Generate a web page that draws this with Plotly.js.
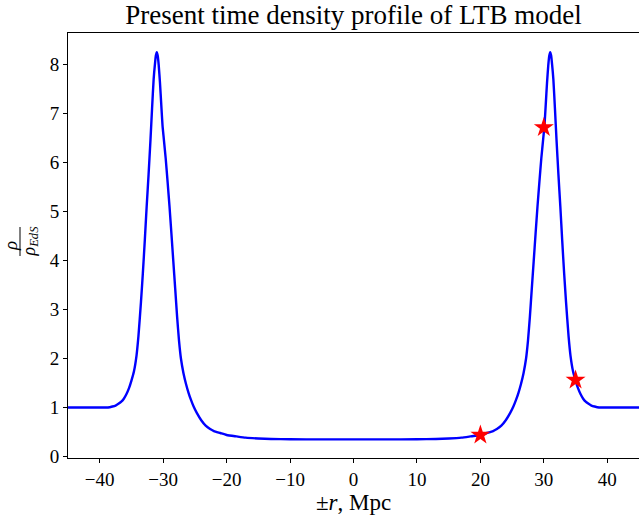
<!DOCTYPE html>
<html>
<head>
<meta charset="utf-8">
<script src="https://cdn.plot.ly/plotly-3.0.1.min.js"></script>
<style>
html,body{margin:0;padding:0;background:#fff;}
#chart{width:639px;height:519px;}
</style>
</head>
<body>
<div id="chart"></div>
<script>
// Half profile (r >= 0); the plot shows it mirrored to ±r
const rHalf   = [0, 5, 10, 13, 15, 17, 18.4, 20, 21, 22, 22.6, 23.3, 24.0, 24.7, 25.2, 25.6, 26.0, 26.4, 26.8, 27.2, 27.5, 27.8, 28.1, 28.4, 28.7, 29.0, 29.3, 29.6, 29.9, 30.1, 30.3, 30.5, 30.7, 30.85, 31.0, 31.15, 31.3, 31.5, 31.75, 32.0, 32.3, 32.6, 32.9, 33.2, 33.5, 33.9, 34.2, 34.6, 35.0, 35.4, 35.8, 36.2, 36.6, 37.0, 37.5, 38.0, 38.7, 40, 45];
const rhoHalf = [0.35, 0.35, 0.352, 0.358, 0.368, 0.385, 0.41, 0.44, 0.48, 0.52, 0.56, 0.63, 0.74, 0.89, 1.02, 1.15, 1.30, 1.48, 1.70, 2.00, 2.36, 2.85, 3.42, 3.98, 4.55, 5.10, 5.60, 6.08, 6.48, 6.75, 7.18, 7.62, 7.98, 8.17, 8.25, 8.18, 8.00, 7.70, 7.10, 6.46, 5.75, 5.10, 4.40, 3.74, 3.15, 2.45, 2.06, 1.74, 1.55, 1.39, 1.27, 1.18, 1.12, 1.08, 1.04, 1.02, 1.0, 1.0, 1.0];

// Marked points (red stars)
const starR   = [20, 30, 35];
const starRho = [0.44, 6.71, 1.56];

const xTicks = [-40, -30, -20, -10, 0, 10, 20, 30, 40];
const yTicks = [0, 1, 2, 3, 4, 5, 6, 7, 8];

// Mirror the half profile onto negative r
const rFull = rHalf.slice(1).reverse().map(v => -v).concat(rHalf);
const rhoFull = rhoHalf.slice(1).reverse().concat(rhoHalf);

const fontFam = '"Liberation Serif", "DejaVu Serif", serif';

const traces = [
  {x: rFull, y: rhoFull, type: 'scatter', mode: 'lines',
   line: {color: '#0000ff', width: 2.4, shape: 'spline', smoothing: 0.5},
   hoverinfo: 'skip', showlegend: false},
  {x: starR, y: starRho, type: 'scatter', mode: 'markers',
   marker: {symbol: 'star', size: 15, color: '#ff0000', line: {width: 0}},
   showlegend: false}
];

const L = 68, W = 639, H = 519, T = 33, B = 61;
const plotH = H - T - B;
function py(p) { return (H - B - p) / plotH; }

const layout = {
  width: W, height: H,
  margin: {l: L, r: 0, t: T, b: B},
  paper_bgcolor: '#ffffff', plot_bgcolor: '#ffffff',
  font: {family: fontFam, color: '#000', size: 19},
  title: {text: 'Present time density profile of LTB model', x: 0.5, xref: 'paper',
          y: 1 - 15/H, yref: 'container', yanchor: 'middle',
          font: {family: fontFam, size: 27, color: '#000'}},
  xaxis: {range: [-45, 45], tickvals: xTicks, ticktext: xTicks.map(v => v < 0 ? '\u2212' + Math.abs(v) : String(v)),
          ticks: 'outside', ticklen: 4, tickwidth: 1, tickcolor: '#000',
          showline: true, linecolor: '#000', linewidth: 1, mirror: true,
          showgrid: false, zeroline: false,
          tickfont: {family: fontFam, size: 19},
          title: {text: '\u00b1<i>r</i>, Mpc', font: {family: fontFam, size: 23}, standoff: 4}},
  yaxis: {range: [-0.03, 8.64], tickvals: yTicks,
          ticks: 'outside', ticklen: 4, tickwidth: 1, tickcolor: '#000',
          showline: true, linecolor: '#000', linewidth: 1, mirror: false,
          showgrid: false, zeroline: false,
          tickfont: {family: fontFam, size: 19}},
  annotations: [
    {text: '<i>ρ</i>', xref: 'paper', yref: 'paper', x: 0, xshift: 10 - L, y: py(246),
     showarrow: false, textangle: -90, xanchor: 'center', yanchor: 'middle',
     font: {family: fontFam, size: 19}},
    {text: '<i>ρ</i><sub><i>EdS</i></sub>', xref: 'paper', yref: 'paper', x: 0, xshift: 30 - L, y: py(241.5),
     showarrow: false, textangle: -90, xanchor: 'center', yanchor: 'middle',
     font: {family: fontFam, size: 18}}
  ],
  shapes: [
    {type: 'line', xref: 'paper', yref: 'paper', x0: (20 - L)/(W - L), x1: (20 - L)/(W - L),
     y0: py(256), y1: py(227), line: {color: '#000', width: 1}}
  ]
};

Plotly.newPlot('chart', traces, layout, {displayModeBar: false, staticPlot: true});
</script>
</body>
</html>
